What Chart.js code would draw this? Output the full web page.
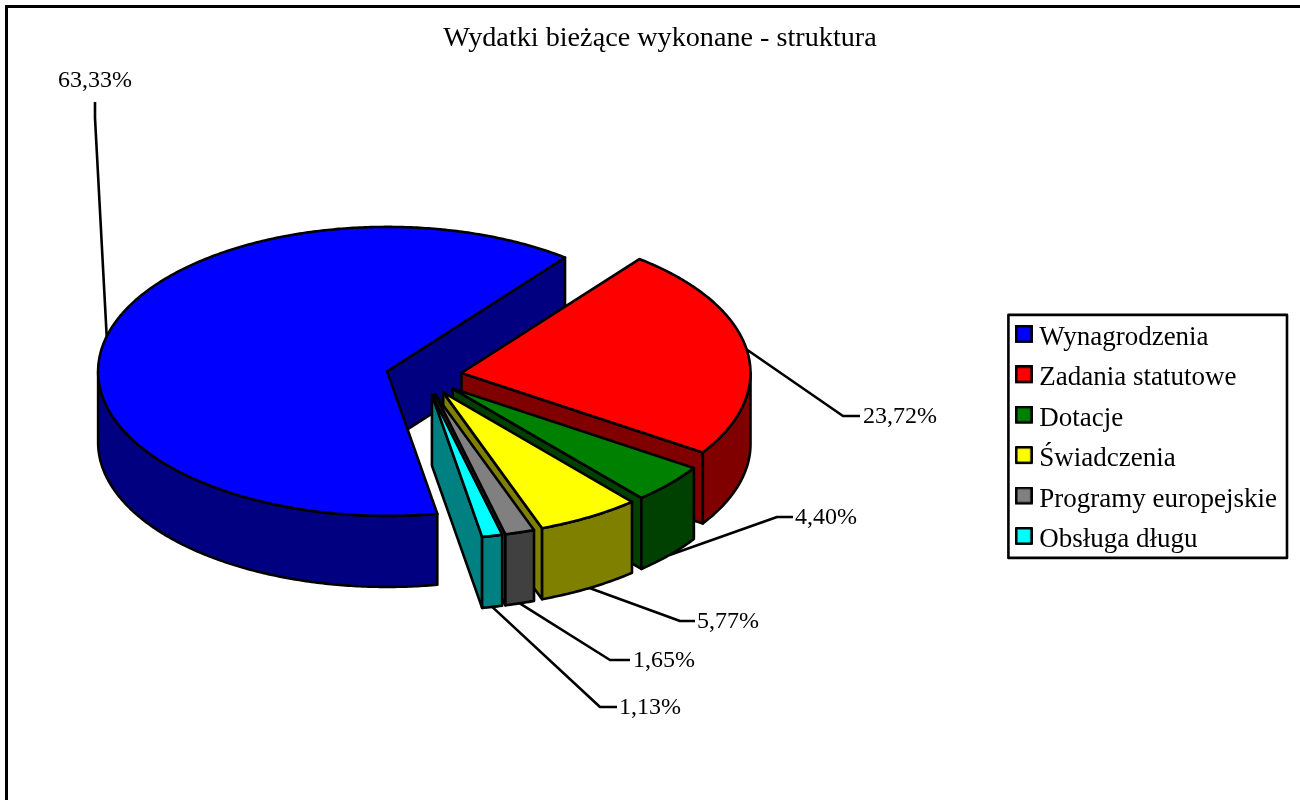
<!DOCTYPE html>
<html lang="pl">
<head>
<meta charset="utf-8">
<title>Wydatki bieżące wykonane - struktura</title>
<style>
html,body{margin:0;padding:0;background:#fff;overflow:hidden}
#wrap{position:absolute;left:0;top:0;width:1300px;height:800px}
</style>
<script src="https://cdn.jsdelivr.net/npm/chart.js@4"></script>
</head>
<body>
<div id="wrap"><canvas id="c" width="1300" height="800"></canvas></div>
<script>
const titleText = 'Wydatki bieżące wykonane - struktura';
const categories = ['Wynagrodzenia','Zadania statutowe','Dotacje','Świadczenia','Programy europejskie','Obsługa długu'];
const shares = [63.33,23.72,4.40,5.77,1.65,1.13];
const topColors = ['#0000ff','#ff0000','#008000','#ffff00','#808080','#00ffff'];
const sideColors = ['#000080','#800000','#004000','#808000','#404040','#008080'];

const FONT = '"Liberation Serif", serif';
const view = {cx:424, cy:376, squash:0.5, depth:71, explode:38, radius:289, lw:2.6};
// leader lines: elbow and horizontal end of each line, then where its text starts
const leaders = [
  {elbow:[95,118], end:[95,102], textCenter:[95,81]},
  {elbow:[843,416], end:[860,416], text:[863,417]},
  {elbow:[777,517], end:[793,517], text:[795,518]},
  {elbow:[680,621], end:[695,621], text:[697,622]},
  {elbow:[610,660], end:[630,660], text:[633,661]},
  {elbow:[600,707], end:[617,707], text:[619,708]}
];

function swatch(color){
  const s = document.createElement('canvas');
  s.width = 18; s.height = 26;
  const g = s.getContext('2d');
  g.fillStyle = color; g.fillRect(0,0,18,18);
  g.strokeStyle = '#000'; g.lineWidth = 2.6; g.lineJoin='round';
  g.strokeRect(1.3,1.3,15.4,15.4);
  return s;
}

function shift(arc){
  const mid = (arc.startAngle + arc.endAngle)/2;
  return {x:Math.cos(mid)*view.explode, y:Math.sin(mid)*view.explode, mid};
}
function pt(arc, angle, r, dy){
  const e = shift(arc);
  return [view.cx + e.x + r*Math.cos(angle),
          view.cy + (e.y + r*Math.sin(angle))*view.squash + dy];
}
function tracePoly(ctx, pts){
  ctx.beginPath();
  pts.forEach((p,i)=> i ? ctx.lineTo(p[0],p[1]) : ctx.moveTo(p[0],p[1]));
  ctx.closePath();
}
function paint(ctx, pts, fill){
  tracePoly(ctx, pts);
  if (fill){ ctx.fillStyle = fill; ctx.fill(); }
  ctx.stroke();
}
function samples(a0, a1){
  const n = Math.max(2, Math.ceil(Math.abs(a1-a0)/0.01));
  const out = [];
  for (let i=0;i<=n;i++) out.push(a0 + (a1-a0)*i/n);
  return out;
}

const pie3d = {
  id:'pie3d',
  beforeDraw(chart){
    const ctx = chart.ctx;
    ctx.save();
    ctx.fillStyle = '#fff';
    ctx.fillRect(0,0,chart.width,chart.height);
    ctx.fillStyle = '#000';
    ctx.fillRect(5,5,chart.width-5,3);
    ctx.fillRect(5,5,3,chart.height-5);
    ctx.restore();
  },
  beforeDatasetDraw(chart, args){
    const ctx = chart.ctx;
    const arcs = chart.getDatasetMeta(args.index).data;
    ctx.save();
    ctx.lineWidth = view.lw;
    ctx.strokeStyle = '#000';
    ctx.lineJoin = 'round';
    arcs.forEach((arc,i)=>{
      const R = arc.outerRadius, D = view.depth;
      const side = sideColors[i];
      const s = arc.startAngle, e = arc.endAngle;
      // radial cut faces that look towards the viewer
      [[s, Math.cos(s) < 0],[e, Math.cos(e) > 0]].forEach(([a,show])=>{
        if (!show) return;
        paint(ctx,[pt(arc,a,0,0),pt(arc,a,R,0),pt(arc,a,R,D),pt(arc,a,0,D)],side);
      });
      // outer rim: only the lower half of the ellipse is visible
      for (let k=-1;k<=1;k++){
        const lo = Math.max(s, k*2*Math.PI), hi = Math.min(e, k*2*Math.PI + Math.PI);
        if (hi <= lo) continue;
        const as = samples(lo,hi);
        paint(ctx, as.map(a=>pt(arc,a,R,0)).concat(as.slice().reverse().map(a=>pt(arc,a,R,D))), side);
      }
      // top surface: the library's own arc element, flattened
      const o = shift(arc);
      ctx.save();
      ctx.translate(view.cx - arc.x, view.cy - arc.y*view.squash);
      ctx.scale(1, view.squash);
      ctx.translate(o.x, o.y);
      arc.draw(ctx);
      ctx.restore();
      paint(ctx,[pt(arc,s,0,0)].concat(samples(s,e).map(a=>pt(arc,a,R,0))),null);
    });
    ctx.restore();
    return false;
  },
  afterDraw(chart){
    const ctx = chart.ctx;
    const arcs = chart.getDatasetMeta(0).data;
    ctx.save();
    ctx.strokeStyle = '#000';
    ctx.lineWidth = view.lw;
    ctx.lineJoin = 'round';
    ctx.fillStyle = '#000';
    ctx.font = '24px ' + FONT;
    ctx.textBaseline = 'middle';
    arcs.forEach((arc,i)=>{
      const m = shift(arc).mid, L = leaders[i];
      const st = pt(arc,m,arc.outerRadius, Math.sin(m) > 0 ? view.depth : 0);
      ctx.beginPath();
      ctx.moveTo(st[0],st[1]);
      ctx.lineTo(L.elbow[0],L.elbow[1]);
      ctx.lineTo(L.end[0],L.end[1]);
      ctx.stroke();
      const label = shares[i].toFixed(2).replace('.',',') + '%';
      if (L.textCenter){
        ctx.textAlign='center';
        ctx.fillText(label,L.textCenter[0],L.textCenter[1]);
      } else {
        ctx.textAlign='left';
        ctx.fillText(label,L.text[0],L.text[1]);
      }
    });
    // legend frame around the legend's own items
    const lg = chart.legend, hb = lg.legendHitBoxes;
    const first = hb[0], last = hb[hb.length-1];
    const top = first.top + first.height/2 - 23;
    const bottom = last.top + last.height/2 + 18;
    ctx.strokeRect(lg.left, top, lg.width, bottom-top);
    ctx.restore();
  }
};

new Chart(document.getElementById('c'),{
  type:'pie',
  plugins:[pie3d],
  data:{
    labels:categories,
    datasets:[{data:shares, backgroundColor:topColors, borderWidth:0, clip:false}]
  },
  options:{
    responsive:false,
    animation:false,
    rotation:170,
    radius:view.radius,
    layout:{padding:{left:33,right:13,top:22,bottom:0}},
    plugins:{
      tooltip:{enabled:false},
      title:{
        display:true,
        text:titleText,
        color:'#000',
        font:{family:FONT,size:28.2,weight:'normal'},
        padding:{top:0,bottom:22}
      },
      legend:{
        position:'right',
        fullSize:false,
        labels:{
          color:'#000',
          font:{family:FONT,size:27},
          padding:13.4,
          usePointStyle:true,
          boxWidth:4,
          boxHeight:16,
          generateLabels(chart){
            return chart.data.labels.map((t,i)=>({
              text:t, index:i, hidden:false, fontColor:'#000',
              pointStyle:swatch(topColors[i]), fillStyle:topColors[i], strokeStyle:'#000', lineWidth:2
            }));
          }
        }
      }
    }
  }
});
</script>
</body>
</html>
